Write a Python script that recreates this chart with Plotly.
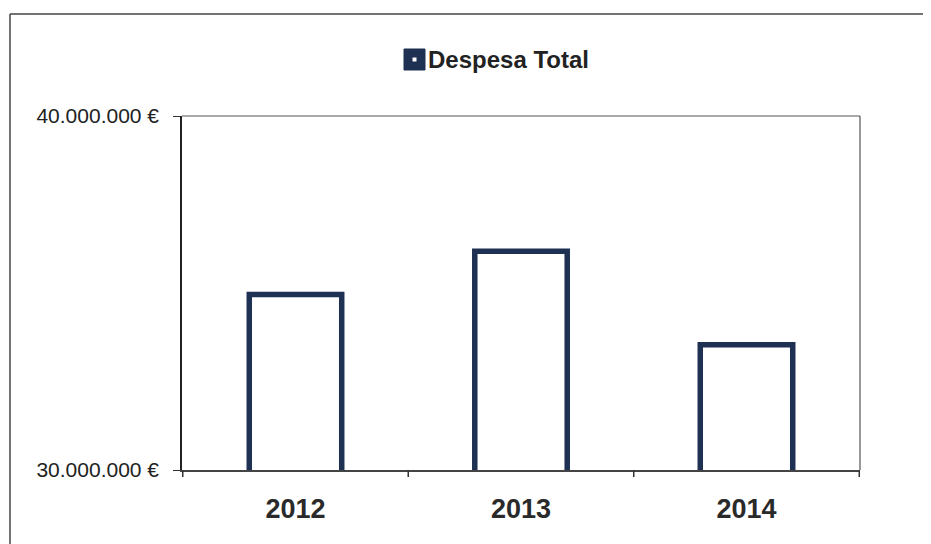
import plotly.graph_objects as go

years = ["2012", "2013", "2014"]
despesa_total = [34960000, 36180000, 33540000]
y_tick_vals = [30000000, 40000000]
y_tick_text = ["30.000.000 €", "40.000.000 €"]
series_name = "Despesa Total"

navy = "#1f3152"
W, H = 923, 536
L, R, T, B = 174, 71, 108, 74
PW, PH = W - L - R, H - T - B


def px(xf):
    return (xf - L) / PW


def py(yf):
    return (H - B - yf) / PH


fig = go.Figure()
fig.add_trace(go.Bar(
    x=years, y=despesa_total, base=0,
    name=series_name, showlegend=False,
    marker=dict(color="white", line=dict(color=navy, width=5.5)),
    width=0.41,
))

fig.update_layout(
    width=W, height=H,
    margin=dict(l=L, r=R, t=T, b=B),
    paper_bgcolor="white", plot_bgcolor="white",
    yaxis=dict(range=[30000000, 40000000], tickvals=y_tick_vals, ticktext=y_tick_text,
               showgrid=False, zeroline=False, showline=True, linecolor="#222222", linewidth=1.5,
               ticks="outside", ticklen=7, tickcolor="#333333", ticklabelstandoff=10,
               tickfont=dict(family="Liberation Sans Narrow, Liberation Sans", size=21, color="#222222")),
    xaxis=dict(showgrid=False, zeroline=False, showline=True, linecolor="#444444", linewidth=1.5,
               ticks="", ticklabelstandoff=14,
               tickfont=dict(family="Liberation Sans", size=27, color="#2a2a2a", weight="bold")),
)

# category boundary ticks on x-axis
for xb in [-0.5, 0.5, 1.5, 2.5]:
    fig.add_shape(type="line", xref="x", yref="paper", x0=xb, x1=xb, y0=0, y1=-0.02,
                  line=dict(color="#333333", width=1.5))

# plot area top and right border
fig.add_shape(type="line", xref="paper", yref="paper", x0=0, x1=1, y0=1, y1=1,
              line=dict(color="#555555", width=1.2))
fig.add_shape(type="line", xref="paper", yref="paper", x0=1, x1=1, y0=0, y1=1,
              line=dict(color="#555555", width=1.2))

# outer chart border (top and left edges visible)
fig.add_shape(type="line", xref="paper", yref="paper",
              x0=px(2), x1=px(W), y0=py(6), y1=py(6),
              line=dict(color="#444444", width=1.5))
fig.add_shape(type="line", xref="paper", yref="paper",
              x0=px(2), x1=px(2), y0=py(6), y1=py(H),
              line=dict(color="#444444", width=1.5))

# legend: square key + label
fig.add_shape(type="rect", xref="paper", yref="paper",
              x0=px(396), x1=px(417), y0=py(62), y1=py(41),
              line=dict(color=navy, width=1), fillcolor=navy)
fig.add_shape(type="rect", xref="paper", yref="paper",
              x0=px(404.5), x1=px(408.5), y0=py(53.5), y1=py(49.5),
              line=dict(color="white", width=0), fillcolor="white")
fig.add_annotation(text=series_name, xref="paper", yref="paper", x=px(418), y=py(52),
                   xanchor="left", yanchor="middle", showarrow=False,
                   font=dict(family="Liberation Sans", size=24, color="#222222", weight="bold"))

fig.write_html("out.html")
